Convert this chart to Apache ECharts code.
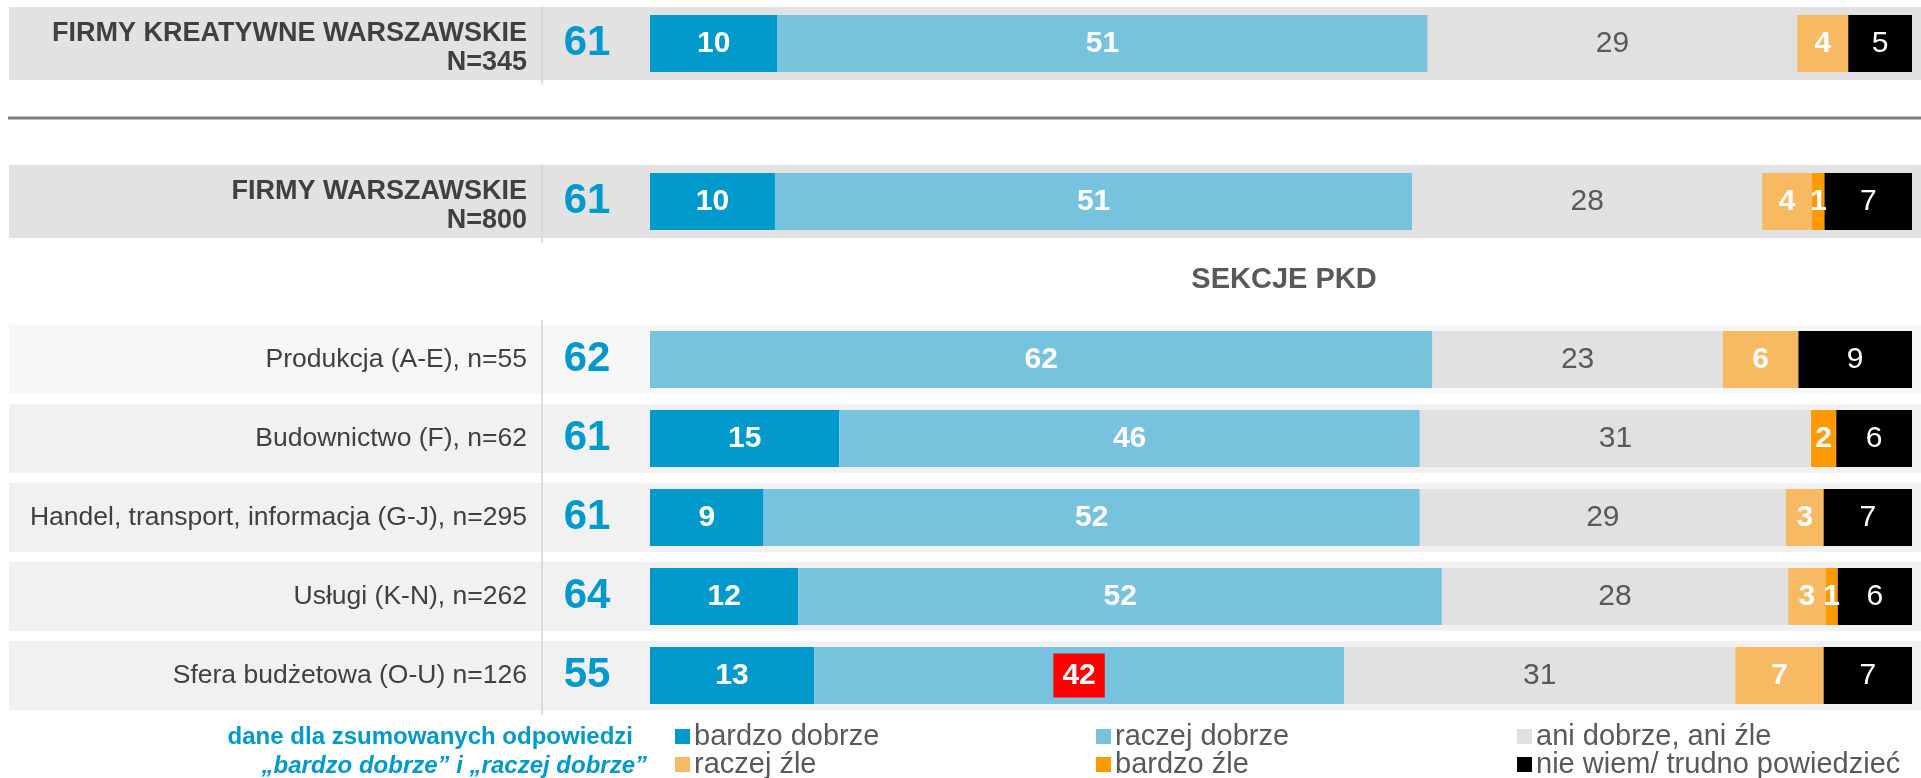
<!DOCTYPE html>
<html>
<head>
<meta charset="utf-8">
<script src="https://cdn.jsdelivr.net/npm/echarts@6/dist/echarts.min.js"></script>
<style>
  html, body { margin: 0; padding: 0; background: #fff; }
  #chart { width: 1921px; height: 778px; }
</style>
</head>
<body>
<div id="chart"></div>
<script>
// rows, top to bottom
const rowNames = [
  'FIRMY KREATYWNE WARSZAWSKIE\nN=345',
  'FIRMY WARSZAWSKIE\nN=800',
  'Produkcja (A-E), n=55',
  'Budownictwo (F), n=62',
  'Handel, transport, informacja (G-J), n=295',
  'Usługi (K-N), n=262',
  'Sfera budżetowa (O-U) n=126'
]
// "bardzo dobrze" + "raczej dobrze"
const goodTotals = [61, 61, 62, 61, 61, 64, 55]

const bardzoDobrze = [10, 10, 0, 15, 9, 12, 13]
const raczejDobrze = [51, 51, 62, 46, 52, 52, 42]
const aniDobrzeAniZle = [29, 28, 23, 31, 29, 28, 31]
const raczejZle = [4, 4, 6, 0, 3, 3, 7]
const bardzoZle = [0, 1, 0, 2, 0, 1, 0]
const nieWiem = [5, 7, 9, 6, 7, 6, 7]

const answerNames = ['bardzo dobrze', 'raczej dobrze', 'ani dobrze, ani źle', 'raczej źle', 'bardzo źle', 'nie wiem/ trudno powiedzieć']
const answers = [bardzoDobrze, raczejDobrze, aniDobrzeAniZle, raczejZle, bardzoZle, nieWiem]

const colors = ['#0099CC', '#77C2DD', '#E1E1E1', '#F7BA62', '#FF9900', '#000000']
const font = "'Liberation Sans', Arial, sans-serif"

// axis slots: null = empty spacer row (divider line / section title)
const slots = [0, null, 1, null, 2, 3, 4, 5, 6]
const rowTotals = rowNames.map((_, r) => answers.reduce((s, a) => s + a[r], 0))

const chart = echarts.init(document.getElementById('chart'), null, { renderer: 'canvas' })

const labelStyles = [
  { color: '#fff', fontWeight: 'bold' },
  { color: '#fff', fontWeight: 'bold' },
  { color: '#595959', fontWeight: 'normal' },
  { color: '#fff', fontWeight: 'bold' },
  { color: '#fff', fontWeight: 'bold' },
  { color: '#fff', fontWeight: 'normal' }
]

const barSeries = answers.map((vals, k) => ({
  name: answerNames[k],
  type: 'bar',
  stack: 'all',
  barWidth: 57,
  z: 3,
  itemStyle: { color: colors[k] },
  label: {
    show: true,
    position: 'inside',
    fontFamily: font,
    fontSize: 30,
    ...labelStyles[k],
    formatter: p => {
      const r = slots[p.dataIndex]
      return r === null || !vals[r] ? '' : String(vals[r])
    }
  },
  data: slots.map(r => {
    if (r === null) return '-'
    const v = vals[r] / rowTotals[r] * 100
    // the 42 in "Sfera budżetowa" is marked with a red box
    if (k === 1 && r === 6) {
      return { value: v, label: { backgroundColor: '#FF0000', padding: [8, 9, 6, 9] } }
    }
    return v
  })
}))

const bandSeries = {
  type: 'custom',
  coordinateSystem: 'cartesian2d',
  clip: false,
  silent: true,
  z: 1,
  encode: { x: 0, y: 1 },
  data: slots.map((r, i) => [0, i, r]).filter(d => d[2] !== null),
  renderItem: (params, api) => {
    const c = api.coord([0, api.value(1)])
    const r = api.value(2)
    const top = r < 2
    const h = top ? 73 : 69
    const fill = top ? '#E2E2E2' : (r === 2 ? '#F7F7F7' : '#F1F1F1')
    return {
      type: 'group',
      children: [
        { type: 'rect', shape: { x: 9, y: c[1] - h / 2, width: api.getWidth() - 9, height: h }, style: { fill } },
        {
          type: 'line',
          shape: top
            ? { x1: 542, y1: c[1] - 37, x2: 542, y2: c[1] + 41 }
            : { x1: 542, y1: c[1] - 39.5, x2: 542, y2: c[1] + 39.5 },
          style: { stroke: '#D4D4D4', lineWidth: 1.5 }
        }
      ]
    }
  }
}

const legendPos = [[675, 737], [1096, 737], [1517, 737], [675, 765], [1096, 765], [1517, 765]]
const legends = answerNames.map((n, k) => ({
  data: [n],
  left: legendPos[k][0],
  top: legendPos[k][1] - 15,
  padding: 0,
  icon: 'rect',
  itemWidth: 15,
  itemHeight: 15,
  selectedMode: false,
  textStyle: { fontFamily: font, fontSize: 29, color: '#595959', padding: [0, 0, 0, -1] }
}))

const option = {
  animation: false,
  textStyle: { fontFamily: font },
  legend: legends,
  grid: { left: 650, right: 9, top: 4, height: 711, containLabel: false },
  xAxis: { type: 'value', min: 0, max: 100, show: false },
  yAxis: [
    {
      type: 'category',
      inverse: true,
      z: 10,
      data: slots.map((_, i) => 's' + i),
      axisLine: { show: false },
      axisTick: { show: false },
      axisLabel: {
        margin: 123,
        align: 'right',
        interval: 0,
        formatter: (v, i) => {
          const r = slots[i]
          if (r === null) return ''
          if (r >= 2) return `{n|${rowNames[r]}}`
          const [l1, l2] = rowNames[r].split('\n')
          return `{b1|${l1}}\n{b2|${l2}}`
        },
        rich: {
          b1: { fontFamily: font, fontSize: 27, fontWeight: 'bold', color: '#404040', lineHeight: 29, align: 'right', padding: [10, 0, 0, 0] },
          b2: { fontFamily: font, fontSize: 27, fontWeight: 'bold', color: '#404040', lineHeight: 29, align: 'right', padding: [9, 0, 0, 0] },
          n: { fontFamily: font, fontSize: 26.5, color: '#404040', align: 'right' }
        }
      }
    },
    {
      type: 'category',
      inverse: true,
      position: 'left',
      z: 10,
      data: slots.map((_, i) => 's' + i),
      axisLine: { show: false },
      axisTick: { show: false },
      axisLabel: {
        margin: 63,
        align: 'center',
        interval: 0,
        fontFamily: font,
        fontSize: 42,
        fontWeight: 'bold',
        color: '#0099CC',
        formatter: (v, i) => slots[i] === null ? '' : String(goodTotals[slots[i]])
      }
    }
  ],
  series: [bandSeries, ...barSeries],
  graphic: [
    { type: 'line', shape: { x1: 8, y1: 118, x2: 1921, y2: 118 }, style: { stroke: '#7F7F7F', lineWidth: 3 } },
    {
      type: 'text', x: 1284, y: 280,
      style: { text: 'SEKCJE PKD', font: 'bold 29px ' + font, fill: '#595959', textAlign: 'center', textVerticalAlign: 'middle' }
    },
    {
      type: 'text', x: 633, y: 737,
      style: { text: 'dane dla zsumowanych odpowiedzi', font: 'bold 24px ' + font, fill: '#0099CC', textAlign: 'right', textVerticalAlign: 'middle' }
    },
    {
      type: 'text', x: 647, y: 766,
      style: { text: '„bardzo dobrze” i „raczej dobrze”', font: 'italic bold 24px ' + font, fill: '#0099CC', textAlign: 'right', textVerticalAlign: 'middle' }
    }
  ]
}

chart.setOption(option)
</script>
</body>
</html>
